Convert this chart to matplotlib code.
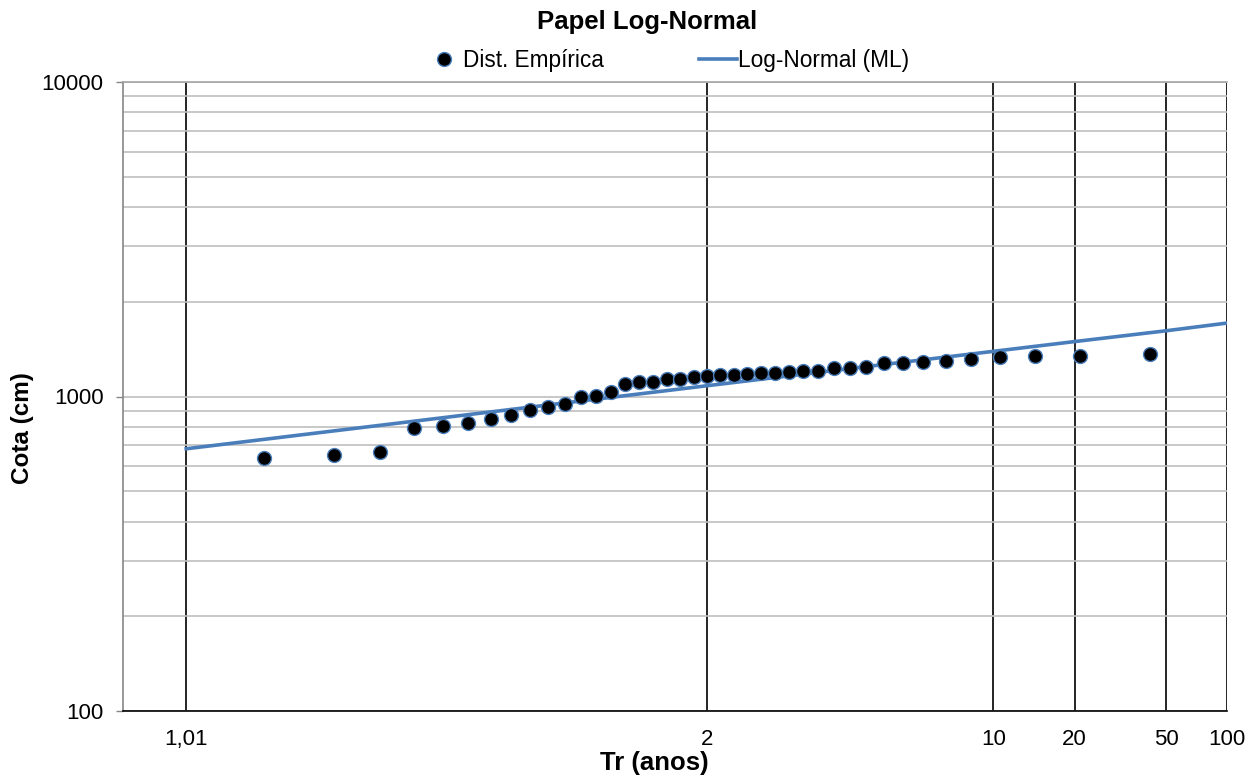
import matplotlib
matplotlib.use("Agg")
import matplotlib.pyplot as plt
from matplotlib.ticker import FixedLocator, NullFormatter, LogLocator
from statistics import NormalDist

plt.rcParams['font.family'] = ['Liberation Sans', 'DejaVu Sans']

# --- dados ---
tr_emp = [1.0244, 1.05, 1.0769, 1.1053, 1.1351, 1.1667, 1.2, 1.2353, 1.2727, 1.3125,
          1.3548, 1.4, 1.4483, 1.5, 1.5556, 1.6154, 1.68, 1.75, 1.8261, 1.9091,
          2.0, 2.1, 2.2105, 2.3333, 2.4706, 2.625, 2.8, 3.0, 3.2308, 3.5,
          3.8182, 4.2, 4.6667, 5.25, 6.0, 7.0, 8.4, 10.5, 14.0, 21.0, 42.0]
cota_emp = [636, 652, 668, 796, 808, 826, 848, 873, 904, 926,
            944, 994, 1004, 1031, 1093, 1115, 1115, 1139, 1139, 1151,
            1162, 1168, 1173, 1177, 1185, 1190, 1199, 1208, 1208, 1235,
            1235, 1244, 1275, 1275, 1290, 1300, 1316, 1338, 1345, 1345, 1362]

tr_fit = [1.01, 2, 10, 20, 50, 100]
cota_fit = [682, 1082, 1392, 1495, 1618, 1712]

tr_ticks = [1.01, 2, 10, 20, 50, 100]
tr_labels = ['1,01', '2', '10', '20', '50', '100']

# papel normal: variavel reduzida z = Phi^-1(1 - 1/Tr)
nd = NormalDist()
def to_z(tr):
    return [nd.inv_cdf(1 - 1 / t) for t in tr]

fig = plt.figure(figsize=(12.56, 7.76), dpi=100)
ax = fig.add_axes([123 / 1256, 1 - 711 / 776, (1227 - 123) / 1256, (711 - 82) / 776])

blue = '#4A7EBB'
ax.plot(to_z(tr_fit), cota_fit, color=blue, lw=2.6, zorder=3, label='Log-Normal (ML)')
ax.plot(to_z(tr_emp), cota_emp, 'o', ms=10, mfc='black', mec=blue, mew=1.0,
        zorder=4, label='Dist. Empírica')

ax.set_yscale('log')
ax.set_ylim(100, 10000)
ax.set_xlim(-2.613, nd.inv_cdf(1 - 1 / 100))

# grelha horizontal cinzenta (todas as linhas do log)
ax.yaxis.set_major_locator(FixedLocator([100, 1000, 10000]))
ax.set_yticklabels(['100', '1000', '10000'])
ax.yaxis.set_minor_locator(LogLocator(base=10, subs=range(2, 10)))
ax.yaxis.set_minor_formatter(NullFormatter())
ax.grid(True, which='both', axis='y', color='#BFBFBF', lw=1.2, zorder=0)

# linhas verticais pretas nos Tr
for z in to_z(tr_ticks):
    ax.axvline(z, color='black', lw=1.2, zorder=1)
ax.set_xticks(to_z(tr_ticks))
ax.set_xticklabels(tr_labels)

ax.tick_params(axis='x', length=0, pad=13, labelsize=16)
ax.tick_params(axis='y', which='major', length=5, width=1, color='#868686',
               pad=9, labelsize=16)
ax.tick_params(axis='y', which='minor', length=0)

ax.spines['right'].set_visible(False)
ax.spines['top'].set_color('#A6A6A6')
ax.spines['left'].set_color('#868686')
ax.spines['bottom'].set_color('black')
for s in ax.spines.values():
    s.set_linewidth(1.2)

fig.text(647 / 1256, 1 - 22 / 776, 'Papel Log-Normal', ha='center', va='center',
         fontsize=18.5, fontweight='bold')
fig.text(654 / 1256, 1 - 763 / 776, 'Tr (anos)', ha='center', va='center',
         fontsize=18.5, fontweight='bold')
fig.text(22 / 1256, 1 - 428 / 776, 'Cota (cm)', ha='center', va='center',
         rotation=90, fontsize=17.5, fontweight='bold')

h, l = ax.get_legend_handles_labels()
fig.legend(h[::-1], l[::-1], loc='center', bbox_to_anchor=(667 / 1256, 1 - 60 / 776),
           ncol=2, frameon=False, fontsize=16.3, handlelength=1.64,
           handletextpad=0.05, columnspacing=4.2, borderpad=0)

fig.savefig('out.png', dpi=100)
